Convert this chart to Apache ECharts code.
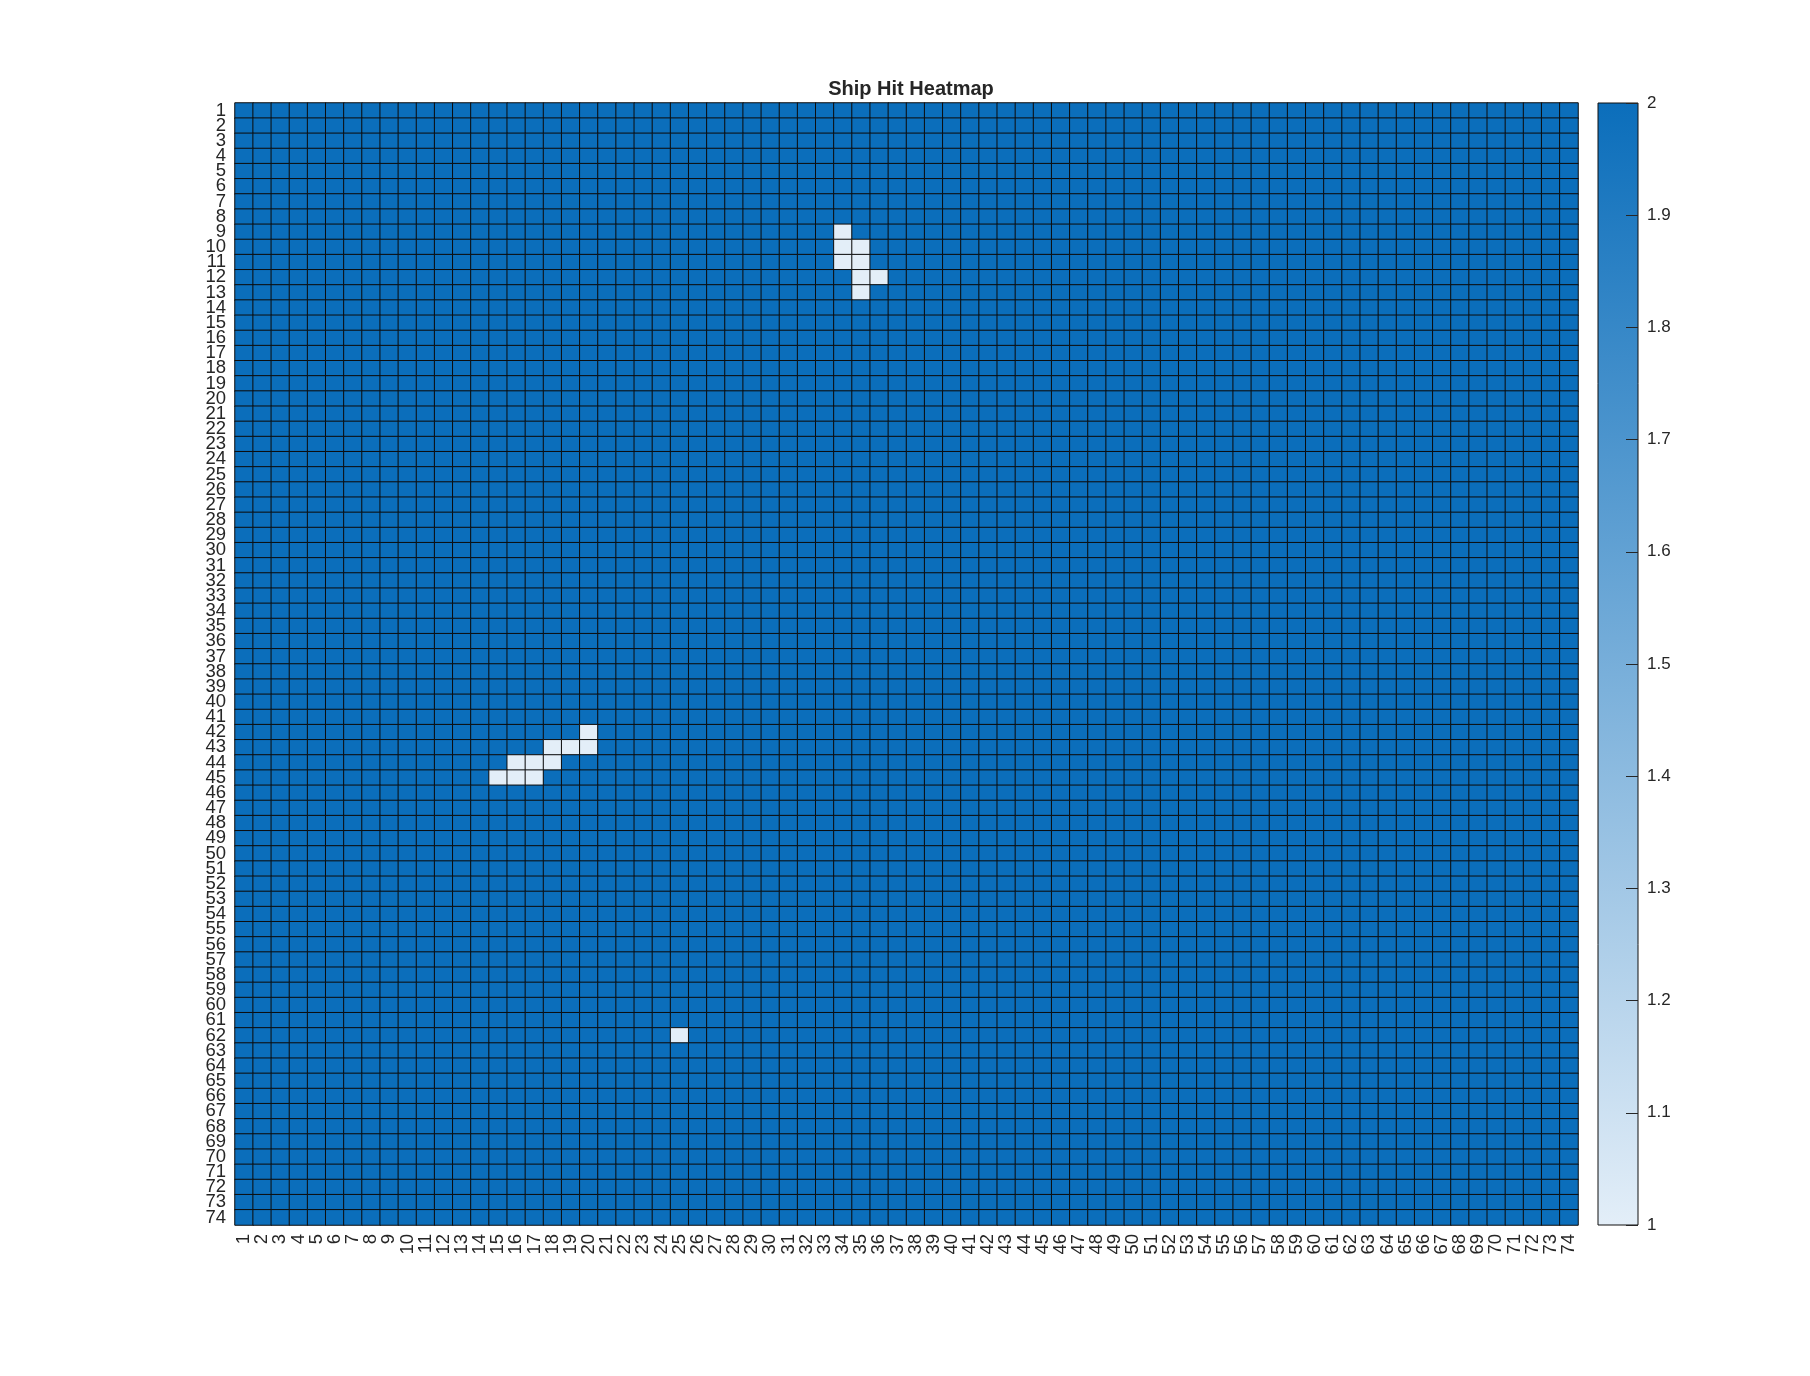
<!DOCTYPE html>
<html>
<head>
<meta charset="utf-8">
<script src="https://cdn.jsdelivr.net/npm/echarts@6/dist/echarts.min.js"></script>
<style>html,body{margin:0;padding:0;background:#fff;}#chart{width:1810px;height:1376px;}</style>
</head>
<body>
<div id="chart"></div>
<script>
// Grid labels (1..74) along both axes
const xLabels = ["1","2","3","4","5","6","7","8","9","10","11","12","13","14","15","16","17","18","19","20","21","22","23","24","25","26","27","28","29","30","31","32","33","34","35","36","37","38","39","40","41","42","43","44","45","46","47","48","49","50","51","52","53","54","55","56","57","58","59","60","61","62","63","64","65","66","67","68","69","70","71","72","73","74"];
const yLabels = xLabels.slice();
// Value of every cell that is not a hit
const baseValue = 2;
// Hit cells: [column, row, value]
const hitCells = [
  [34, 9, 1],
  [34, 10, 1], [35, 10, 1],
  [34, 11, 1], [35, 11, 1],
  [35, 12, 1], [36, 12, 1],
  [35, 13, 1],
  [20, 42, 1],
  [18, 43, 1], [19, 43, 1], [20, 43, 1],
  [16, 44, 1], [17, 44, 1], [18, 44, 1],
  [15, 45, 1], [16, 45, 1], [17, 45, 1],
  [25, 62, 1]
];
const colorbarTicks = [1, 1.1, 1.2, 1.3, 1.4, 1.5, 1.6, 1.7, 1.8, 1.9, 2];

const lowColor = '#E3EEF8';
const highColor = '#0B6EBB';
const font = '"Liberation Sans", Arial, Helvetica, sans-serif';

const hitMap = {};
hitCells.forEach(h => { hitMap[h[0] + '_' + h[1]] = h[2]; });
const heatData = [];
for (let r = 0; r < yLabels.length; r++) {
  for (let c = 0; c < xLabels.length; c++) {
    const key = xLabels[c] + '_' + yLabels[r];
    const v = (key in hitMap) ? hitMap[key] : baseValue;
    heatData.push([c, r, v]);
  }
}

const chart = echarts.init(document.getElementById('chart'));
chart.setOption({
  backgroundColor: '#ffffff',
  animation: false,
  title: {
    text: 'Ship Hit Heatmap',
    left: 906, textAlign: 'center', top: 74,
    textStyle: { fontFamily: font, fontSize: 20, fontWeight: 'bold', color: '#262626' }
  },
  grid: [
    { left: 235, right: 232, top: 103, bottom: 151 },
    { left: 1598, width: 40, top: 103, bottom: 151 }
  ],
  xAxis: [
    {
      type: 'category', data: xLabels, gridIndex: 0, position: 'bottom',
      axisLine: { show: false }, axisTick: { show: false }, splitLine: { show: false },
      axisLabel: { interval: 0, rotate: 90, fontFamily: font, fontSize: 18.5, color: '#262626', margin: 9 }
    },
    {
      type: 'value', gridIndex: 1, min: 0, max: 1, show: false
    }
  ],
  yAxis: [
    {
      type: 'category', data: yLabels, gridIndex: 0, inverse: true,
      axisLine: { show: false }, axisTick: { show: false }, splitLine: { show: false },
      axisLabel: { interval: 0, fontFamily: font, fontSize: 18.5, color: '#262626', margin: 9, lineHeight: 15 }
    },
    {
      type: 'value', gridIndex: 1, min: 1, max: 2, interval: 0.1, position: 'right', z: 10,
      axisLine: { show: false, onZero: false },
      axisTick: { show: true, inside: true, length: 12, lineStyle: { color: '#262626', width: 1 } },
      splitLine: { show: false },
      axisLabel: { fontFamily: font, fontSize: 17, color: '#262626', margin: 9,
        formatter: v => String(Math.round(v * 10) / 10) }
    }
  ],
  visualMap: {
    show: false, min: 1, max: 2, seriesIndex: 0, dimension: 2,
    inRange: { color: [lowColor, highColor] }
  },
  series: [
    {
      type: 'heatmap', xAxisIndex: 0, yAxisIndex: 0, data: heatData,
      itemStyle: { borderColor: '#0d0d0d', borderWidth: 1 },
      emphasis: { disabled: true }
    },
    {
      type: 'custom', xAxisIndex: 1, yAxisIndex: 1, z: 1,
      data: [[0, colorbarTicks[0], colorbarTicks[colorbarTicks.length - 1]]],
      renderItem: function (params, api) {
        const p0 = api.coord([0, api.value(1)]);
        const p1 = api.coord([1, api.value(2)]);
        return {
          type: 'rect',
          shape: { x: p0[0], y: p1[1], width: p1[0] - p0[0], height: p0[1] - p1[1] },
          style: {
            fill: new echarts.graphic.LinearGradient(0, 0, 0, 1, [
              { offset: 0, color: highColor }, { offset: 1, color: lowColor }
            ]),
            stroke: '#111111', lineWidth: 1
          }
        };
      }
    }
  ]
});
</script>
</body>
</html>
